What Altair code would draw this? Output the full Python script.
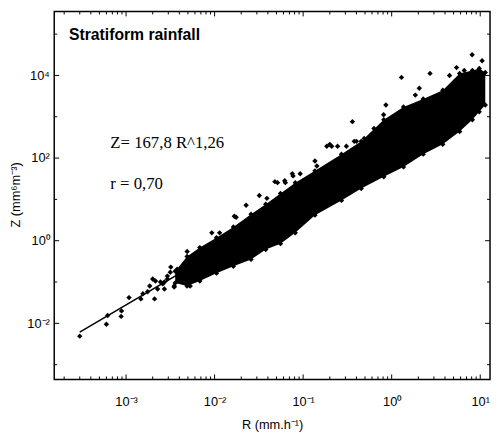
import altair as alt
import pandas as pd

# ---- data ----
# envelope of the dense point cloud (R in mm/h, Z in mm^6 m^-3)
cloud_r = [3.59e-3, 4.89e-3, 6.81e-3, 1.05e-2, 1.63e-2, 2.58e-2, 3.78e-2, 5.55e-2, 8.15e-2, 0.136,
           0.271, 0.453, 0.815, 1.36, 2.27, 3.78, 5.85, 8.15, 9.75, 11.4]
cloud_z_upper = [0.183, 0.416, 0.681, 1.18, 2.15, 4.39, 7.6, 13.9, 25.4, 49.0,
                 124.6, 254, 849, 1730, 2683, 4393, 11160, 13150, 14680, 11790]
cloud_z_lower = [0.0946, 0.0803, 0.106, 0.164, 0.240, 0.353, 0.61, 0.849, 1.55, 4.16,
                 9.46, 18.3, 35.3, 61.1, 124.6, 215, 439, 849, 1315, 1930]

# individual points outside the dense cloud
scatter_r = [3.0e-4, 6.0e-4, 6.2e-4, 8.8e-4, 8.9e-4, 1.08e-3, 1.47e-3, 1.55e-3, 1.75e-3, 1.85e-3,
             2.0e-3, 2.1e-3, 2.15e-3, 2.27e-3, 2.45e-3, 2.6e-3, 2.71e-3, 2.71e-3, 2.93e-3, 2.93e-3,
             3.16e-3, 3.2e-3, 3.5e-3, 3.5e-3, 3.78e-3, 3.8e-3, 4.08e-3, 4.5e-3, 4.9e-3, 5.14e-3,
             5.3e-3, 5.85e-3, 5.85e-3, 6.64e-3, 7.55e-3, 9.3e-3, 1.14e-2, 1.67e-2, 1.75e-2, 2.27e-2,
             3.2e-2, 3.9e-2, 4.8e-2, 5.14e-2, 6.2e-2, 6.3e-2, 7.55e-2, 7.7e-2, 9.26e-2, 0.136,
             0.143, 0.185, 0.20, 0.21, 0.245, 0.308, 0.36, 0.378, 0.40, 0.489,
             0.631, 0.774, 0.81, 0.86, 1.29, 1.85, 2.05, 2.71, 4.5, 5.4,
             6.6, 8.1, 10.5]
scatter_z = [4.9e-3, 9.5e-3, 1.55e-2, 1.47e-2, 2.0e-2, 4.2e-2, 3.9e-2, 0.052, 5.8e-2, 0.080,
             0.118, 3.9e-2, 0.106, 0.068, 0.10, 0.090, 0.068, 0.10, 0.118, 0.139,
             0.173, 0.23, 0.076, 0.080, 0.204, 0.173, 0.173, 0.131, 0.55, 0.118,
             0.080, 0.173, 0.416, 0.240, 0.353, 1.55, 1.55, 3.9, 3.7, 7.2,
             12.4, 10.6, 26.9, 25.4, 28.3, 25.4, 41.6, 37, 41.6, 85,
             64.5, 193, 215, 193, 193, 193, 760, 254, 254, 299,
             518, 645, 1120, 1930, 8950, 3340, 4900, 11200, 10000, 15500,
             13150, 31600, 22750]

# fitted relation Z = 167.8 R^1.26 (end points of the drawn line)
fit_r = [3.0e-4, 10.0]
fit_z = [6.1e-3, 3050.0]

x_major = [1e-3, 1e-2, 1e-1, 1.0, 10.0]
x_minor = [m * 10.0 ** e for e in range(-4, 1) for m in range(2, 10)]
y_major = [1e-2, 1.0, 1e2, 1e4]
y_minor = [1e-3, 1e-1, 1e1, 1e3, 1e5]

# ---- layout ----
W, H = 443, 374
FONT = "Liberation Sans"
SERIF = "Liberation Serif"

xs = alt.Scale(type="log", domain=[1.545e-4, 12.9], nice=False)
ys = alt.Scale(type="log", domain=[4.4e-4, 3.53e5], nice=False)

x_label = ("datum.value < 0.005 ? '10⁻³' : datum.value < 0.05 ? '10⁻²' : "
           "datum.value < 0.5 ? '10⁻¹' : datum.value < 5 ? '10⁰' : '10¹'")
y_label = ("datum.value < 0.1 ? '10⁻²' : datum.value < 10 ? '10⁰' : "
           "datum.value < 1000 ? '10²' : '10⁴'")

x_axis = alt.Axis(values=x_major, labelExpr=x_label, ticks=False, domain=False, grid=False,
                  title="R (mm.h⁻¹)", labelFont=FONT, labelFontSize=13, labelColor="black",
                  labelPadding=17, titleFont=FONT, titleFontSize=13, titleFontWeight="normal",
                  titleColor="black", titleY=46, titleBaseline="middle", labelFlush=False)
y_axis = alt.Axis(values=y_major, labelExpr=y_label, ticks=False, domain=False, grid=False,
                  title="Z (mm⁶m⁻³)", labelFont=FONT, labelFontSize=13, labelColor="black",
                  labelPadding=5, titleFont=FONT, titleFontSize=13, titleFontWeight="normal",
                  titleColor="black", titleX=-39, titleY=186, titleAngle=270,
                  titleAlign="center", titleBaseline="middle", labelFlush=False)


def X(f):
    return alt.X(f"{f}:Q", scale=xs, axis=x_axis)


def Y(f):
    return alt.Y(f"{f}:Q", scale=ys, axis=y_axis)


cloud = pd.DataFrame({"r": cloud_r, "up": cloud_z_upper, "lo": cloud_z_lower})
pts = pd.DataFrame({"r": scatter_r, "z": scatter_z})
fit = pd.DataFrame({"r": fit_r, "z": fit_z})

DIAMOND = dict(shape="diamond", filled=True, size=30, color="black", opacity=1)

area = alt.Chart(cloud).mark_area(color="black", opacity=1, interpolate="linear").encode(
    x=X("r"), y=Y("up"), y2=alt.Y2("lo"))
edge_up = alt.Chart(cloud).mark_point(**DIAMOND).encode(x=X("r"), y=Y("up"))
edge_lo = alt.Chart(cloud).mark_point(**DIAMOND).encode(x=X("r"), y=Y("lo"))
points = alt.Chart(pts).mark_point(**DIAMOND).encode(x=X("r"), y=Y("z"))
line = alt.Chart(fit).mark_line(color="black", strokeWidth=1.5).encode(x=X("r"), y=Y("z"))

xmaj = pd.DataFrame({"v": x_major})
xmin = pd.DataFrame({"v": x_minor})
ymaj = pd.DataFrame({"v": y_major})
ymin = pd.DataFrame({"v": y_minor})


def xticks(df, n):
    b = alt.Chart(df).mark_rule(color="black", strokeWidth=1).encode(
        x=X("v"), y=alt.value(H), y2=alt.value(H - n))
    t = alt.Chart(df).mark_rule(color="black", strokeWidth=1).encode(
        x=X("v"), y=alt.value(0), y2=alt.value(n))
    return [b, t]


def yticks(df, n):
    l = alt.Chart(df).mark_rule(color="black", strokeWidth=1).encode(
        y=Y("v"), x=alt.value(0), x2=alt.value(n))
    r = alt.Chart(df).mark_rule(color="black", strokeWidth=1).encode(
        y=Y("v"), x=alt.value(W), x2=alt.value(W - n))
    return [l, r]


txt = pd.DataFrame({"a": [0]})
title_txt = alt.Chart(txt).mark_text(text="Stratiform rainfall", font=FONT, fontSize=16,
                                     fontWeight="bold", align="left", baseline="middle",
                                     color="black").encode(x=alt.value(15), y=alt.value(24))
eq_txt = alt.Chart(txt).mark_text(text="Z= 167,8 R^1,26", font=SERIF, fontSize=17,
                                  align="left", baseline="middle", color="black").encode(
    x=alt.value(57), y=alt.value(134))
r_txt = alt.Chart(txt).mark_text(text="r = 0,70", font=SERIF, fontSize=17,
                                 align="left", baseline="middle", color="black").encode(
    x=alt.value(57), y=alt.value(175))

layers = [area, edge_up, edge_lo, points, line] + xticks(xmaj, 5) + xticks(xmin, 3) \
    + yticks(ymaj, 5) + yticks(ymin, 3) + [title_txt, eq_txt, r_txt]

chart = alt.layer(*layers).properties(
    width=W, height=H,
    autosize=alt.AutoSizeParams(type="none"),
    padding={"left": 47, "top": 0, "right": 1, "bottom": 54},
    background="white",
).configure_view(stroke="black", strokeWidth=1.5)

chart.save("out.html", embed_options={"renderer": "svg", "actions": False})
